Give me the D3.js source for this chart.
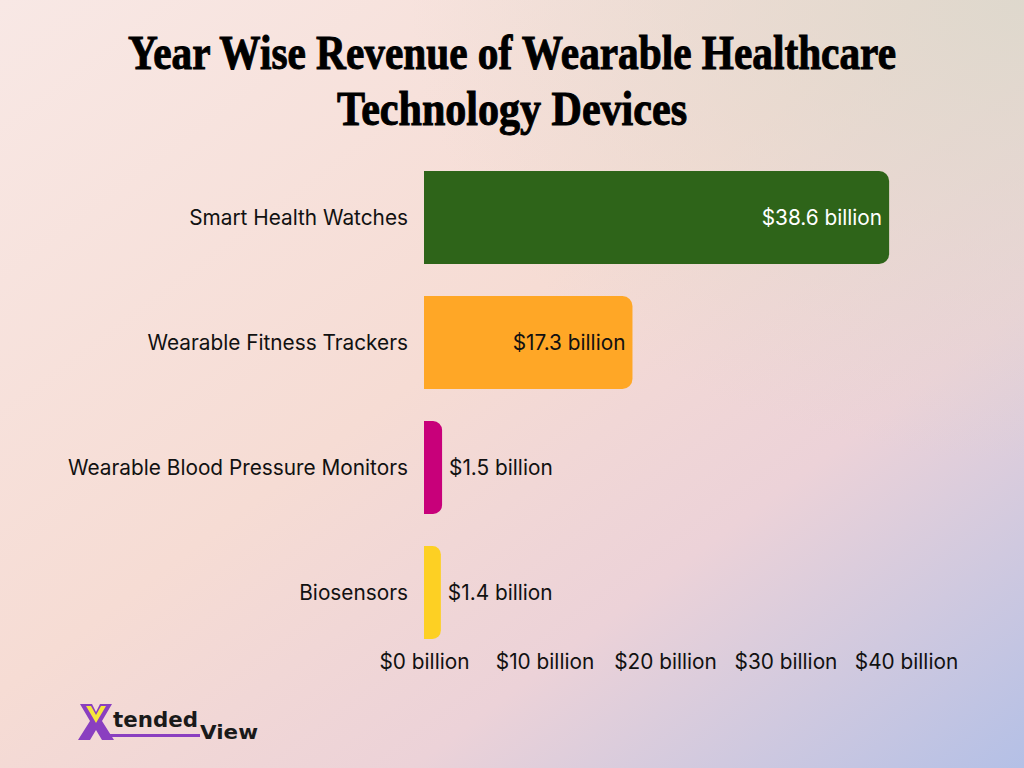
<!DOCTYPE html>
<html lang="en">
  <head>
    <meta charset="UTF-8" />
    <title>Wearable Healthcare Revenue</title>
    <script src="https://d3js.org/d3.v7.min.js"></script>
    <style>
      body { margin: 0; }
    </style>
  </head>
  <body></body>
  <script>
    var categories = [
      "Smart Health Watches",
      "Wearable Fitness Trackers",
      "Wearable Blood Pressure Monitors",
      "Biosensors"
    ];
    var revenue = [38.6, 17.3, 1.5, 1.4];
    var barColors = ["#2e6419", "#ffa726", "#c8007a", "#fdd023"];
    var tickValues = [0, 10, 20, 30, 40];
    var titleLines = ["Year Wise Revenue of Wearable Healthcare", "Technology Devices"];

    var width = 1024, height = 768;
    var font = "Inter, 'Noto Sans', sans-serif";
    var fontSize = 20.8;

    var svg = d3.select("body").append("svg")
      .attr("width", width)
      .attr("height", height);

    // background gradient
    var defs = svg.append("defs");
    var bg = defs.append("linearGradient")
      .attr("id", "bg")
      .attr("x1", "0%").attr("y1", "0%")
      .attr("x2", "100%").attr("y2", "100%");
    bg.append("stop").attr("offset", "0%").attr("stop-color", "#f8e8e5");
    bg.append("stop").attr("offset", "45%").attr("stop-color", "#f6dcd4");
    bg.append("stop").attr("offset", "70%").attr("stop-color", "#ecd2d8");
    bg.append("stop").attr("offset", "100%").attr("stop-color", "#b4c0e6");
    var tr = defs.append("radialGradient")
      .attr("id", "tr")
      .attr("cx", "100%").attr("cy", "0%").attr("r", "60%");
    tr.append("stop").attr("offset", "0%").attr("stop-color", "#dcd8cc").attr("stop-opacity", 0.9);
    tr.append("stop").attr("offset", "100%").attr("stop-color", "#dcd8cc").attr("stop-opacity", 0);

    svg.append("rect").attr("width", width).attr("height", height).attr("fill", "url(#bg)");
    svg.append("rect").attr("width", width).attr("height", height).attr("fill", "url(#tr)");

    // title
    svg.append("g")
      .selectAll("text")
      .data(titleLines)
      .join("text")
      .attr("x", width / 2)
      .attr("y", (d, i) => 69 + i * 56)
      .attr("text-anchor", "middle")
      .attr("font-family", "'Liberation Serif', 'Times New Roman', serif")
      .attr("font-weight", "bold")
      .attr("font-size", 48)
      .attr("textLength", (d, i) => i === 0 ? 768 : 350)
      .attr("lengthAdjust", "spacingAndGlyphs")
      .attr("fill", "#000")
      .attr("stroke", "#000")
      .attr("stroke-width", 1)
      .text(d => d);

    var x = d3.scaleLinear().domain([0, 40]).range([424, 906]);
    var y = d3.scaleBand()
      .domain(categories)
      .range([155, 655])
      .paddingInner(0.256)
      .paddingOuter(0.128);

    var data = categories.map((c, i) => ({ name: c, value: revenue[i], color: barColors[i] }));

    function barPath(d) {
      var x0 = x(0), x1 = x(d.value), y0 = y(d.name), h = y.bandwidth();
      var r = Math.min(10, (x1 - x0) / 2);
      return "M" + x0 + "," + y0 +
        "H" + (x1 - r) +
        "A" + r + "," + r + " 0 0 1 " + x1 + "," + (y0 + r) +
        "V" + (y0 + h - r) +
        "A" + r + "," + r + " 0 0 1 " + (x1 - r) + "," + (y0 + h) +
        "H" + x0 + "Z";
    }

    svg.append("g")
      .selectAll("path")
      .data(data)
      .join("path")
      .attr("fill", d => d.color)
      .attr("d", barPath);

    // category labels
    svg.append("g")
      .selectAll("text")
      .data(data)
      .join("text")
      .attr("x", 408)
      .attr("y", d => y(d.name) + y.bandwidth() / 2)
      .attr("dy", "0.35em")
      .attr("text-anchor", "end")
      .attr("font-family", font)
      .attr("font-size", fontSize)
      .attr("fill", "#111")
      .text(d => d.name);

    // value labels
    svg.append("g")
      .selectAll("text")
      .data(data)
      .join("text")
      .attr("x", d => d.value > 10 ? x(d.value) - 7 : x(d.value) + 7)
      .attr("y", d => y(d.name) + y.bandwidth() / 2)
      .attr("dy", "0.35em")
      .attr("text-anchor", d => d.value > 10 ? "end" : "start")
      .attr("font-family", font)
      .attr("font-size", fontSize)
      .attr("fill", (d, i) => i === 0 ? "#ffffff" : "#111")
      .text(d => "$" + d.value + " billion");

    // x axis (labels only)
    var axis = svg.append("g")
      .attr("transform", "translate(0,650)")
      .call(d3.axisBottom(x).tickValues(tickValues).tickSize(0).tickPadding(0)
        .tickFormat(d => "$" + d + " billion"));
    axis.select(".domain").remove();
    axis.selectAll("text")
      .attr("dy", "0.35em")
      .attr("y", 12)
      .attr("font-family", font)
      .attr("font-size", fontSize)
      .attr("fill", "#111");

    // logo
    var logo = svg.append("g").attr("transform", "translate(80,704)");
    logo.append("path")
      .attr("d", "M0,0 H12 L16,8 L20,0 H32 L22,17 L34,36 H22 L16,26 L10,36 H-2 L10,17 Z")
      .attr("fill", "#8a3fc0");
    logo.append("path")
      .attr("d", "M6,2 H11 L16,11 L21,2 H26 L16,19 Z")
      .attr("fill", "#f5e63a");
    logo.append("rect")
      .attr("x", 30).attr("y", 30).attr("width", 90).attr("height", 3)
      .attr("fill", "#8a3fc0");
    logo.append("text")
      .attr("x", 33).attr("y", 23)
      .attr("font-family", "'DejaVu Sans', sans-serif")
      .attr("font-weight", "bold")
      .attr("font-size", 22)
      .attr("textLength", 85)
      .attr("lengthAdjust", "spacingAndGlyphs")
      .attr("fill", "#1a1a1a")
      .text("tended");
    logo.append("text")
      .attr("x", 120).attr("y", 35)
      .attr("font-family", "'DejaVu Sans', sans-serif")
      .attr("font-weight", "bold")
      .attr("font-size", 20)
      .attr("textLength", 58)
      .attr("lengthAdjust", "spacingAndGlyphs")
      .attr("fill", "#1a1a1a")
      .text("View");
  </script>
</html>
